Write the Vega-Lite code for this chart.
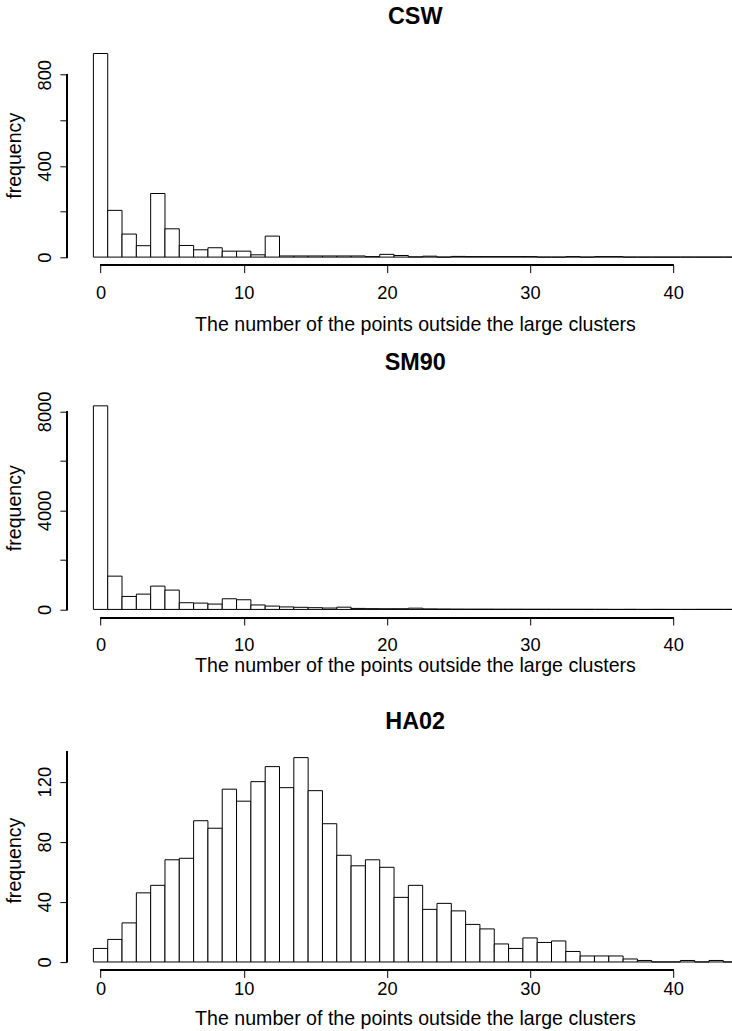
{
  "$schema": "https://vega.github.io/schema/vega-lite/v6.json",
  "padding": {"left": 4.2, "top": 4.3, "right": 0, "bottom": 3.5},
  "background": "white",
  "spacing": 132.4,
  "bounds": "flush",
  "config": {
    "font": "Liberation Sans",
    "view": {"stroke": null},
    "axis": {"grid": false, "domain": false, "tickColor": "#000", "tickSize": 7.3, "tickWidth": 1, "labelColor": "#000", "labelFont": "Liberation Sans", "labelFontSize": 18.3, "titleFont": "Liberation Sans", "titleFontSize": 19.6, "titleFontWeight": "normal", "titleColor": "#000", "labelFlush": false, "labelOverlap": false},
    "axisX": {"labelBaseline": "alphabetic", "titleBaseline": "alphabetic", "titleAlign": "center", "titleX": 347.8},
    "axisY": {"labelAngle": -90, "labelAlign": "center", "labelBaseline": "alphabetic", "labelPadding": 9.4, "titleAngle": -90, "titleAlign": "center", "titleBaseline": "alphabetic", "titleX": -46.5, "titleY": 110},
    "title": {"font": "Liberation Sans", "fontSize": 23.4, "fontWeight": "bold", "color": "#000", "anchor": "middle", "baseline": "alphabetic", "offset": 15.9, "dx": 15.5}
  },
  "datasets": {
    "csw": [
      {"k":0,"lo":-0.5,"hi":0.5,"n":893},{"k":1,"lo":0.5,"hi":1.5,"n":205},{"k":2,"lo":1.5,"hi":2.5,"n":101},{"k":3,"lo":2.5,"hi":3.5,"n":50},{"k":4,"lo":3.5,"hi":4.5,"n":279},{"k":5,"lo":4.5,"hi":5.5,"n":124},{"k":6,"lo":5.5,"hi":6.5,"n":51},{"k":7,"lo":6.5,"hi":7.5,"n":32},{"k":8,"lo":7.5,"hi":8.5,"n":41},{"k":9,"lo":8.5,"hi":9.5,"n":26},{"k":10,"lo":9.5,"hi":10.5,"n":26},{"k":11,"lo":10.5,"hi":11.5,"n":10},{"k":12,"lo":11.5,"hi":12.5,"n":92},{"k":13,"lo":12.5,"hi":13.5,"n":5},{"k":14,"lo":13.5,"hi":14.5,"n":5},{"k":15,"lo":14.5,"hi":15.5,"n":5},{"k":16,"lo":15.5,"hi":16.5,"n":5},{"k":17,"lo":16.5,"hi":17.5,"n":5},{"k":18,"lo":17.5,"hi":18.5,"n":5},{"k":19,"lo":18.5,"hi":19.5,"n":2},{"k":20,"lo":19.5,"hi":20.5,"n":12},{"k":21,"lo":20.5,"hi":21.5,"n":7},{"k":22,"lo":21.5,"hi":22.5,"n":1},{"k":23,"lo":22.5,"hi":23.5,"n":4},{"k":24,"lo":23.5,"hi":24.5,"n":0},{"k":25,"lo":24.5,"hi":25.5,"n":3},{"k":26,"lo":25.5,"hi":26.5,"n":2},{"k":27,"lo":26.5,"hi":27.5,"n":2},{"k":28,"lo":27.5,"hi":28.5,"n":2},{"k":29,"lo":28.5,"hi":29.5,"n":2},{"k":30,"lo":29.5,"hi":30.5,"n":2},{"k":31,"lo":30.5,"hi":31.5,"n":0},{"k":32,"lo":31.5,"hi":32.5,"n":0},{"k":33,"lo":32.5,"hi":33.5,"n":2},{"k":34,"lo":33.5,"hi":34.5,"n":0},{"k":35,"lo":34.5,"hi":35.5,"n":2},{"k":36,"lo":35.5,"hi":36.5,"n":2},{"k":37,"lo":36.5,"hi":37.5,"n":0},{"k":38,"lo":37.5,"hi":38.5,"n":0},{"k":39,"lo":38.5,"hi":39.5,"n":0},{"k":40,"lo":39.5,"hi":40.5,"n":0},{"k":41,"lo":40.5,"hi":41.5,"n":0},{"k":42,"lo":41.5,"hi":42.5,"n":0},{"k":43,"lo":42.5,"hi":43.5,"n":0},{"k":44,"lo":43.5,"hi":44.5,"n":0}
    ],
    "sm90": [
      {"k":0,"lo":-0.5,"hi":0.5,"n":8226},{"k":1,"lo":0.5,"hi":1.5,"n":1344},{"k":2,"lo":1.5,"hi":2.5,"n":524},{"k":3,"lo":2.5,"hi":3.5,"n":618},{"k":4,"lo":3.5,"hi":4.5,"n":941},{"k":5,"lo":4.5,"hi":5.5,"n":780},{"k":6,"lo":5.5,"hi":6.5,"n":269},{"k":7,"lo":6.5,"hi":7.5,"n":255},{"k":8,"lo":7.5,"hi":8.5,"n":215},{"k":9,"lo":8.5,"hi":9.5,"n":430},{"k":10,"lo":9.5,"hi":10.5,"n":390},{"k":11,"lo":10.5,"hi":11.5,"n":180},{"k":12,"lo":11.5,"hi":12.5,"n":134},{"k":13,"lo":12.5,"hi":13.5,"n":100},{"k":14,"lo":13.5,"hi":14.5,"n":85},{"k":15,"lo":14.5,"hi":15.5,"n":70},{"k":16,"lo":15.5,"hi":16.5,"n":55},{"k":17,"lo":16.5,"hi":17.5,"n":90},{"k":18,"lo":17.5,"hi":18.5,"n":40},{"k":19,"lo":18.5,"hi":19.5,"n":30},{"k":20,"lo":19.5,"hi":20.5,"n":27},{"k":21,"lo":20.5,"hi":21.5,"n":27},{"k":22,"lo":21.5,"hi":22.5,"n":50},{"k":23,"lo":22.5,"hi":23.5,"n":20},{"k":24,"lo":23.5,"hi":24.5,"n":15},{"k":25,"lo":24.5,"hi":25.5,"n":12},{"k":26,"lo":25.5,"hi":26.5,"n":10},{"k":27,"lo":26.5,"hi":27.5,"n":10},{"k":28,"lo":27.5,"hi":28.5,"n":8},{"k":29,"lo":28.5,"hi":29.5,"n":8},{"k":30,"lo":29.5,"hi":30.5,"n":6},{"k":31,"lo":30.5,"hi":31.5,"n":6},{"k":32,"lo":31.5,"hi":32.5,"n":5},{"k":33,"lo":32.5,"hi":33.5,"n":5},{"k":34,"lo":33.5,"hi":34.5,"n":4},{"k":35,"lo":34.5,"hi":35.5,"n":3},{"k":36,"lo":35.5,"hi":36.5,"n":0},{"k":37,"lo":36.5,"hi":37.5,"n":2},{"k":38,"lo":37.5,"hi":38.5,"n":0},{"k":39,"lo":38.5,"hi":39.5,"n":1},{"k":40,"lo":39.5,"hi":40.5,"n":0},{"k":41,"lo":40.5,"hi":41.5,"n":0},{"k":42,"lo":41.5,"hi":42.5,"n":1},{"k":43,"lo":42.5,"hi":43.5,"n":1},{"k":44,"lo":43.5,"hi":44.5,"n":1}
    ],
    "ha02": [
      {"k":0,"lo":-0.5,"hi":0.5,"n":9},{"k":1,"lo":0.5,"hi":1.5,"n":15},{"k":2,"lo":1.5,"hi":2.5,"n":26},{"k":3,"lo":2.5,"hi":3.5,"n":46},{"k":4,"lo":3.5,"hi":4.5,"n":51},{"k":5,"lo":4.5,"hi":5.5,"n":68},{"k":6,"lo":5.5,"hi":6.5,"n":69},{"k":7,"lo":6.5,"hi":7.5,"n":94},{"k":8,"lo":7.5,"hi":8.5,"n":89},{"k":9,"lo":8.5,"hi":9.5,"n":115},{"k":10,"lo":9.5,"hi":10.5,"n":107},{"k":11,"lo":10.5,"hi":11.5,"n":120},{"k":12,"lo":11.5,"hi":12.5,"n":130},{"k":13,"lo":12.5,"hi":13.5,"n":116},{"k":14,"lo":13.5,"hi":14.5,"n":136},{"k":15,"lo":14.5,"hi":15.5,"n":114},{"k":16,"lo":15.5,"hi":16.5,"n":92},{"k":17,"lo":16.5,"hi":17.5,"n":71},{"k":18,"lo":17.5,"hi":18.5,"n":64},{"k":19,"lo":18.5,"hi":19.5,"n":68},{"k":20,"lo":19.5,"hi":20.5,"n":63},{"k":21,"lo":20.5,"hi":21.5,"n":43},{"k":22,"lo":21.5,"hi":22.5,"n":51},{"k":23,"lo":22.5,"hi":23.5,"n":35},{"k":24,"lo":23.5,"hi":24.5,"n":39},{"k":25,"lo":24.5,"hi":25.5,"n":34},{"k":26,"lo":25.5,"hi":26.5,"n":25},{"k":27,"lo":26.5,"hi":27.5,"n":22},{"k":28,"lo":27.5,"hi":28.5,"n":12},{"k":29,"lo":28.5,"hi":29.5,"n":9},{"k":30,"lo":29.5,"hi":30.5,"n":16},{"k":31,"lo":30.5,"hi":31.5,"n":13},{"k":32,"lo":31.5,"hi":32.5,"n":14},{"k":33,"lo":32.5,"hi":33.5,"n":7},{"k":34,"lo":33.5,"hi":34.5,"n":4},{"k":35,"lo":34.5,"hi":35.5,"n":4},{"k":36,"lo":35.5,"hi":36.5,"n":4},{"k":37,"lo":36.5,"hi":37.5,"n":2},{"k":38,"lo":37.5,"hi":38.5,"n":1},{"k":39,"lo":38.5,"hi":39.5,"n":0},{"k":40,"lo":39.5,"hi":40.5,"n":0},{"k":41,"lo":40.5,"hi":41.5,"n":1},{"k":42,"lo":41.5,"hi":42.5,"n":0},{"k":43,"lo":42.5,"hi":43.5,"n":1},{"k":44,"lo":43.5,"hi":44.5,"n":0}
    ]
  },
  "vconcat": [
    {
      "title": "CSW",
      "width": 665, "height": 220,
      "data": {"name": "csw"},
      "layer": [
        {"mark": {"type": "rect", "fill": "#fff", "stroke": "#000", "strokeWidth": 1, "clip": true},
         "encoding": {
           "x": {"field": "lo", "type": "quantitative", "scale": {"domain": [-2.33, 44.12], "nice": false, "zero": false}, "axis": {"values": [0, 10, 20, 30, 40], "format": "d", "title": "The number of the points outside the large clusters", "labelPadding": 25.7, "titleY": 65.4}},
           "x2": {"field": "hi"},
           "y": {"field": "n", "type": "quantitative", "scale": {"domain": [-36, 929], "nice": false, "zero": false}, "axis": {"values": [0, 200, 400, 600, 800], "format": "d", "labelExpr": "datum.value % 400 == 0 ? datum.label : ''", "title": "frequency"}},
           "y2": {"datum": 0}
         }},
        {"mark": {"type": "rule", "color": "#000", "strokeWidth": 1}, "encoding": {"x": {"datum": 0}, "x2": {"datum": 40}, "y": {"datum": -36}}},
        {"mark": {"type": "rule", "color": "#000", "strokeWidth": 1}, "encoding": {"x": {"datum": -2.33}, "y": {"datum": 0}, "y2": {"datum": 800}}}
      ]
    },
    {
      "title": "SM90",
      "width": 665, "height": 220,
      "data": {"name": "sm90"},
      "layer": [
        {"mark": {"type": "rect", "fill": "#fff", "stroke": "#000", "strokeWidth": 1, "clip": true},
         "encoding": {
           "x": {"field": "lo", "type": "quantitative", "scale": {"domain": [-2.33, 44.12], "nice": false, "zero": false}, "axis": {"values": [0, 10, 20, 30, 40], "format": "d", "title": "The number of the points outside the large clusters", "labelPadding": 25.4, "titleY": 53.4}},
           "x2": {"field": "hi"},
           "y": {"field": "n", "type": "quantitative", "scale": {"domain": [-335, 8555], "nice": false, "zero": false}, "axis": {"values": [0, 2000, 4000, 6000, 8000], "format": "d", "labelExpr": "datum.value % 4000 == 0 ? datum.label : ''", "title": "frequency"}},
           "y2": {"datum": 0}
         }},
        {"mark": {"type": "rule", "color": "#000", "strokeWidth": 1}, "encoding": {"x": {"datum": 0}, "x2": {"datum": 40}, "y": {"datum": -335}}},
        {"mark": {"type": "rule", "color": "#000", "strokeWidth": 1}, "encoding": {"x": {"datum": -2.33}, "y": {"datum": 0}, "y2": {"datum": 8000}}}
      ]
    },
    {
      "title": "HA02",
      "width": 665, "height": 220,
      "data": {"name": "ha02"},
      "layer": [
        {"mark": {"type": "rect", "fill": "#fff", "stroke": "#000", "strokeWidth": 1, "clip": true},
         "encoding": {
           "x": {"field": "lo", "type": "quantitative", "scale": {"domain": [-2.33, 44.12], "nice": false, "zero": false}, "axis": {"values": [0, 10, 20, 30, 40], "format": "d", "title": "The number of the points outside the large clusters", "labelPadding": 17.4, "titleY": 54.7}},
           "x2": {"field": "hi"},
           "y": {"field": "n", "type": "quantitative", "scale": {"domain": [-5.4, 141], "nice": false, "zero": false}, "axis": {"values": [0, 20, 40, 60, 80, 100, 120, 140], "format": "d", "labelExpr": "datum.value % 40 == 0 ? datum.label : ''", "title": "frequency"}},
           "y2": {"datum": 0}
         }},
        {"mark": {"type": "rule", "color": "#000", "strokeWidth": 1}, "encoding": {"x": {"datum": 0}, "x2": {"datum": 40}, "y": {"datum": -5.4}}},
        {"mark": {"type": "rule", "color": "#000", "strokeWidth": 1}, "encoding": {"x": {"datum": -2.33}, "y": {"datum": 0}, "y2": {"datum": 140}}}
      ]
    }
  ]
}
